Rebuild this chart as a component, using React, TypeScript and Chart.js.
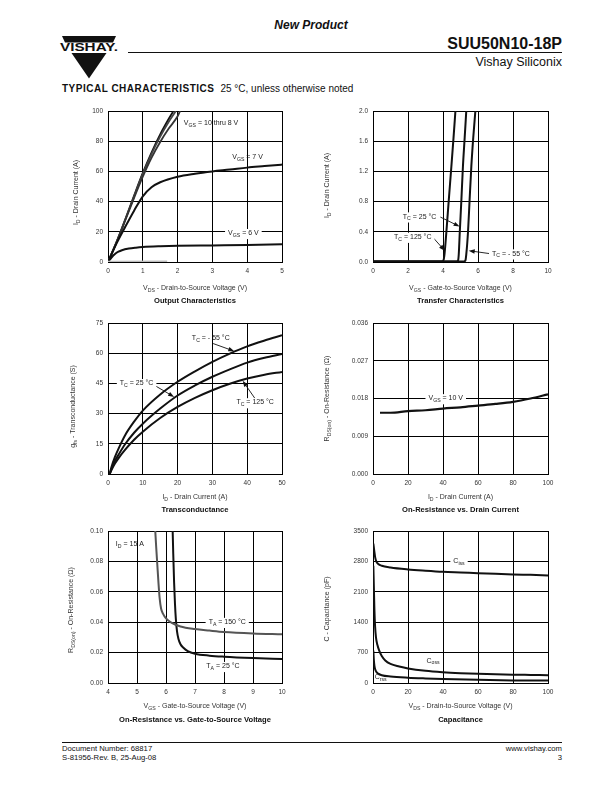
import React, { useEffect, useRef } from "react";
import { Chart, registerables } from "chart.js";

Chart.register(...registerables);

type Pt = [number, number];

// ---------------- Output Characteristics ----------------
const OUT_X_TICKS = [0, 1, 2, 3, 4, 5];
const OUT_Y_TICKS = [0, 20, 40, 60, 80, 100];
const OUT_VGS10: Pt[] = [[0, 0], [0.25, 13.5], [0.5, 28.5], [0.75, 44], [1, 59], [1.25, 72.5], [1.5, 84.5], [1.75, 95], [1.88, 100]];
const OUT_VGS9: Pt[] = [[0, 0], [0.25, 13.5], [0.5, 28.3], [0.75, 43.5], [1, 58.3], [1.25, 71.5], [1.5, 83], [1.75, 93], [1.95, 100]];
const OUT_VGS8: Pt[] = [[0, 0], [0.25, 13.2], [0.5, 27.8], [0.75, 42.5], [1, 56.5], [1.25, 69], [1.5, 79.5], [1.75, 88.5], [2, 96.5], [2.07, 100]];
const OUT_VGS7: Pt[] = [[0, 0], [0.25, 12.5], [0.5, 23.5], [0.75, 34], [1, 43.5], [1.25, 49.5], [1.5, 52.8], [2, 56.5], [2.5, 58.5], [3, 60], [3.5, 61.2], [4, 62.5], [4.5, 63.5], [5, 64.5]];
const OUT_VGS6: Pt[] = [[0, 0], [0.1, 3], [0.2, 5.3], [0.3, 6.8], [0.4, 7.8], [0.6, 8.9], [0.8, 9.5], [1, 9.9], [1.5, 10.4], [2, 10.7], [3, 11], [4, 11.3], [5, 11.7]];
const OUT_VGS5: Pt[] = [[0, 0.3], [1.7, 0.5]];

// ---------------- Transfer Characteristics ----------------
const TR_X_TICKS = [0, 2, 4, 6, 8, 10];
const TR_Y_TICKS = [0, 0.4, 0.8, 1.2, 1.6, 2.0];
const TR_TC125: Pt[] = [[0, 0.008], [3.9, 0.008], [4.02, 0.02], [4.08, 0.09], [4.19, 0.39], [4.33, 0.82], [4.48, 1.27], [4.6, 1.64], [4.71, 2.0]];
const TR_TC25: Pt[] = [[0, 0.008], [4.78, 0.008], [4.86, 0.02], [4.9, 0.1], [4.96, 0.4], [5.05, 0.82], [5.14, 1.27], [5.24, 1.65], [5.33, 2.0]];
const TR_TCM55: Pt[] = [[0, 0.008], [5.2, 0.008], [5.28, 0.02], [5.33, 0.1], [5.43, 0.4], [5.52, 0.82], [5.62, 1.27], [5.73, 1.65], [5.85, 2.0]];

// ---------------- Transconductance ----------------
const GFS_X_TICKS = [0, 10, 20, 30, 40, 50];
const GFS_Y_TICKS = [0, 15, 30, 45, 60, 75];
const GFS_TCM55: Pt[] = [[0.5, 0], [1, 3.5], [2, 8.5], [3, 12.5], [5, 19.5], [7.5, 26], [10, 31.5], [15, 39.5], [20, 45.8], [25, 51], [30, 55.7], [35, 59.8], [40, 63.4], [45, 66.3], [50, 68.9]];
const GFS_TC25: Pt[] = [[0.5, 0], [1, 2.5], [2, 6.5], [3, 9.5], [5, 15], [7.5, 20.5], [10, 25], [15, 32.5], [20, 39], [25, 44], [30, 48.3], [35, 52], [40, 55.3], [45, 57.7], [50, 59.6]];
const GFS_TC125: Pt[] = [[0.5, 0], [1, 2], [2, 5.2], [3, 7.8], [5, 12.2], [7.5, 17], [10, 21], [15, 27.8], [20, 33.3], [25, 37.8], [30, 41.6], [35, 44.8], [40, 47.4], [45, 49.3], [50, 50.7]];

// ---------------- On-Resistance vs. Drain Current ----------------
const RID_X_TICKS = [0, 20, 40, 60, 80, 100];
const RID_Y_TICKS = [0, 0.009, 0.018, 0.027, 0.036];
const RID_VGS10: Pt[] = [[4, 0.0146], [10, 0.0146], [20, 0.015], [30, 0.0152], [40, 0.0156], [50, 0.0159], [60, 0.0163], [70, 0.0167], [80, 0.0172], [90, 0.018], [100, 0.019]];

// ---------------- On-Resistance vs. Gate-to-Source Voltage ----------------
const RVG_X_TICKS = [4, 5, 6, 7, 8, 9, 10];
const RVG_Y_TICKS = [0, 0.02, 0.04, 0.06, 0.08, 0.1];
const RVG_TA150: Pt[] = [[5.63, 0.1], [5.66, 0.09], [5.7, 0.078], [5.74, 0.066], [5.78, 0.056], [5.83, 0.049], [5.9, 0.0455], [6.0, 0.0425], [6.2, 0.0395], [6.5, 0.0372], [7.0, 0.0355], [7.5, 0.0345], [8.0, 0.0336], [9.0, 0.0326], [10.0, 0.032]];
const RVG_TA25: Pt[] = [[6.23, 0.1], [6.25, 0.085], [6.28, 0.066], [6.31, 0.052], [6.34, 0.042], [6.38, 0.034], [6.43, 0.029], [6.5, 0.0255], [6.6, 0.0232], [6.75, 0.021], [7.0, 0.0193], [7.5, 0.018], [8.0, 0.0173], [9.0, 0.0164], [10.0, 0.0158]];

// ---------------- Capacitance ----------------
const CAP_X_TICKS = [0, 20, 40, 60, 80, 100];
const CAP_Y_TICKS = [0, 700, 1400, 2100, 2800, 3500];
const CAP_CISS: Pt[] = [[0.2, 3210], [0.7, 3050], [1.3, 2880], [2, 2790], [3, 2740], [5, 2700], [10, 2660], [20, 2615], [30, 2585], [40, 2560], [50, 2545], [60, 2530], [70, 2515], [80, 2500], [90, 2490], [100, 2478]];
const CAP_COSS: Pt[] = [[0.2, 2700], [0.5, 2200], [0.8, 1700], [1.2, 1300], [1.7, 1050], [2.5, 880], [3.5, 750], [5, 620], [7, 520], [10, 440], [15, 380], [20, 335], [30, 280], [40, 248], [50, 227], [60, 212], [70, 200], [80, 192], [90, 186], [100, 180]];
const CAP_CRSS: Pt[] = [[0.2, 750], [0.5, 520], [0.8, 400], [1.2, 320], [2, 250], [3, 215], [5, 180], [10, 150], [20, 122], [30, 105], [40, 92], [60, 72], [80, 60], [100, 55]];

// ---------------- layout / style ----------------
const FONT = '"Liberation Sans", Arial, Helvetica, sans-serif';
const ML = 70, MR = 15, MT = 10, MB = 46;

type Label = { x: number; y: number; t: string; bg?: boolean };
type Arrow = { from: Pt; to: Pt };
type Series = { data: Pt[]; color: string; width: number };
type PanelCfg = {
  left: number; top: number; w: number; h: number;
  xMin: number; xMax: number; xTicks: number[]; xDec: number;
  yMin: number; yMax: number; yTicks: number[]; yDec: number;
  series: Series[];
  xTitle: string; yTitle: string; caption: string;
  xTitleDy: number; captionDy: number; yTitleDx: number; yTitleDy: number;
  labels: Label[]; arrows: Arrow[];
};

function parseRich(s: string) {
  const parts: { t: string; sub: boolean }[] = [];
  const re = /_\{([^}]*)\}/g;
  let last = 0;
  let m: RegExpExecArray | null;
  while ((m = re.exec(s))) {
    if (m.index > last) parts.push({ t: s.slice(last, m.index), sub: false });
    parts.push({ t: m[1], sub: true });
    last = re.lastIndex;
  }
  if (last < s.length) parts.push({ t: s.slice(last), sub: false });
  return parts;
}

function drawRich(ctx: CanvasRenderingContext2D, s: string, x: number, y: number, size: number,
  align: "left" | "center", bold = false, bg = false, color = "#1a1a1a") {
  const parts = parseRich(s);
  const sub = size * 0.74;
  const f = (sz: number) => `${bold ? "bold " : ""}${sz}px ${FONT}`;
  const widths = parts.map((p) => { ctx.font = f(p.sub ? sub : size); return ctx.measureText(p.t).width; });
  const w = widths.reduce((a, b) => a + b, 0);
  let cx = align === "center" ? x - w / 2 : x;
  if (bg) {
    ctx.fillStyle = "#fff";
    ctx.fillRect(cx - 3, y - size * 0.62, w + 6, size * 1.45);
  }
  ctx.fillStyle = color;
  ctx.textAlign = "left";
  ctx.textBaseline = "middle";
  parts.forEach((p, i) => {
    ctx.font = f(p.sub ? sub : size);
    ctx.fillText(p.t, cx, p.sub ? y + size * 0.3 : y);
    cx += widths[i];
  });
}

function makePlugin(cfg: PanelCfg) {
  return {
    id: "panelText",
    afterDraw(chart: any) {
      const ctx: CanvasRenderingContext2D = chart.ctx;
      const xs = chart.scales.x, ys = chart.scales.y;
      const ca = chart.chartArea;
      ctx.save();
      // arrows
      cfg.arrows.forEach((a) => {
        const x1 = xs.getPixelForValue(a.from[0]), y1 = ys.getPixelForValue(a.from[1]);
        const x2 = xs.getPixelForValue(a.to[0]), y2 = ys.getPixelForValue(a.to[1]);
        const ang = Math.atan2(y2 - y1, x2 - x1);
        ctx.strokeStyle = "#111";
        ctx.lineWidth = 0.9;
        ctx.beginPath();
        ctx.moveTo(x1, y1);
        ctx.lineTo(x2 - 4 * Math.cos(ang), y2 - 4 * Math.sin(ang));
        ctx.stroke();
        ctx.fillStyle = "#111";
        ctx.beginPath();
        ctx.moveTo(x2, y2);
        ctx.lineTo(x2 - 6 * Math.cos(ang) + 2.2 * Math.sin(ang), y2 - 6 * Math.sin(ang) - 2.2 * Math.cos(ang));
        ctx.lineTo(x2 - 6 * Math.cos(ang) - 2.2 * Math.sin(ang), y2 - 6 * Math.sin(ang) + 2.2 * Math.cos(ang));
        ctx.closePath();
        ctx.fill();
      });
      // labels
      cfg.labels.forEach((l) => {
        drawRich(ctx, l.t, xs.getPixelForValue(l.x), ys.getPixelForValue(l.y), 7, "left", false, !!l.bg);
      });
      // axis titles and caption
      const midX = (ca.left + ca.right) / 2;
      drawRich(ctx, cfg.xTitle, midX, ca.bottom + cfg.xTitleDy, 7, "center", false, false, "#333");
      drawRich(ctx, cfg.caption, midX, ca.bottom + cfg.captionDy, 7.6, "center", true, false, "#111");
      ctx.save();
      ctx.translate(ca.left + cfg.yTitleDx, (ca.top + ca.bottom) / 2 + cfg.yTitleDy);
      ctx.rotate(-Math.PI / 2);
      drawRich(ctx, cfg.yTitle, 0, 0, 7, "center", false, false, "#333");
      ctx.restore();
      ctx.restore();
    },
  };
}

function Panel({ cfg }: { cfg: PanelCfg }) {
  const ref = useRef<HTMLCanvasElement>(null);
  const cw = cfg.w + ML + MR;
  const ch = cfg.h + MT + MB;
  useEffect(() => {
    const canvas = ref.current;
    if (!canvas) return;
    const tickFont = { family: FONT, size: 6.5 };
    const chart = new Chart(canvas, {
      type: "line",
      data: {
        datasets: cfg.series.map((s) => ({
          data: s.data.map(([x, y]) => ({ x, y })),
          borderColor: s.color,
          borderWidth: s.width,
          pointRadius: 0,
          fill: false,
          cubicInterpolationMode: "monotone",
          tension: 0.4,
        })),
      },
      options: {
        animation: false,
        responsive: false,
        devicePixelRatio: 1,
        events: [],
        layout: { padding: { left: 0, right: MR, top: MT, bottom: 0 }, autoPadding: false },
        plugins: { legend: { display: false }, tooltip: { enabled: false } },
        scales: {
          x: {
            type: "linear",
            min: cfg.xMin,
            max: cfg.xMax,
            afterBuildTicks: (s: any) => { s.ticks = cfg.xTicks.map((v) => ({ value: v })); },
            afterFit: (s: any) => { s.height = MB; },
            grid: { color: "#000", lineWidth: 1, drawTicks: false },
            border: { display: true, color: "#000", width: 1 },
            ticks: {
              padding: 5, color: "#333", font: tickFont, maxRotation: 0, autoSkip: false,
              callback: (v: any) => Number(v).toFixed(cfg.xDec),
            },
          },
          y: {
            type: "linear",
            min: cfg.yMin,
            max: cfg.yMax,
            afterBuildTicks: (s: any) => { s.ticks = cfg.yTicks.map((v) => ({ value: v })); },
            afterFit: (s: any) => { s.width = ML; },
            grid: { color: "#000", lineWidth: 1, drawTicks: false },
            border: { display: true, color: "#000", width: 1 },
            ticks: {
              padding: 5, color: "#333", font: tickFont, autoSkip: false,
              callback: (v: any) => Number(v).toFixed(cfg.yDec),
            },
          },
        },
      } as any,
      plugins: [makePlugin(cfg)],
    });
    return () => chart.destroy();
  }, [cfg]);
  return (
    <canvas
      ref={ref}
      width={cw}
      height={ch}
      style={{ position: "absolute", left: cfg.left - ML, top: cfg.top - MT, width: cw, height: ch }}
    />
  );
}

const K = "#111";

const PANELS: PanelCfg[] = [
  {
    left: 108, top: 111, w: 174, h: 151,
    xMin: 0, xMax: 5, xTicks: OUT_X_TICKS, xDec: 0,
    yMin: 0, yMax: 100, yTicks: OUT_Y_TICKS, yDec: 0,
    series: [
      { data: OUT_VGS5, color: "#bbb", width: 1.5 },
      { data: OUT_VGS6, color: K, width: 2 },
      { data: OUT_VGS7, color: K, width: 2 },
      { data: OUT_VGS8, color: "#333", width: 1.8 },
      { data: OUT_VGS9, color: "#444", width: 1.8 },
      { data: OUT_VGS10, color: K, width: 1.8 },
    ],
    xTitle: "V_{DS} - Drain-to-Source Voltage (V)", yTitle: "I_{D} - Drain Current (A)", caption: "Output Characteristics",
    xTitleDy: 26.5, captionDy: 38.5, yTitleDx: -32, yTitleDy: 6,
    labels: [
      { x: 2.18, y: 92, t: "V_{GS} = 10 thru 8 V" },
      { x: 3.57, y: 69.5, t: "V_{GS} = 7 V" },
      { x: 3.45, y: 19, t: "V_{GS} = 6 V", bg: true },
    ],
    arrows: [],
  },
  {
    left: 373, top: 111, w: 175, h: 151,
    xMin: 0, xMax: 10, xTicks: TR_X_TICKS, xDec: 0,
    yMin: 0, yMax: 2, yTicks: TR_Y_TICKS, yDec: 1,
    series: [
      { data: TR_TC125, color: K, width: 2 },
      { data: TR_TC25, color: K, width: 2 },
      { data: TR_TCM55, color: K, width: 2 },
    ],
    xTitle: "V_{GS} - Gate-to-Source Voltage (V)", yTitle: "I_{D} - Drain Current (A)", caption: "Transfer Characteristics",
    xTitleDy: 26.5, captionDy: 38.5, yTitleDx: -46, yTitleDy: -1,
    labels: [
      { x: 1.7, y: 0.6, t: "T_{C} = 25 °C", bg: true },
      { x: 1.2, y: 0.33, t: "T_{C} = 125 °C", bg: true },
      { x: 6.8, y: 0.11, t: "T_{C} = - 55 °C", bg: true },
    ],
    arrows: [
      { from: [3.85, 0.595], to: [4.95, 0.47] },
      { from: [3.42, 0.327], to: [4.1, 0.15] },
      { from: [6.7, 0.11], to: [5.47, 0.15] },
    ],
  },
  {
    left: 108, top: 323, w: 174, h: 151,
    xMin: 0, xMax: 50, xTicks: GFS_X_TICKS, xDec: 0,
    yMin: 0, yMax: 75, yTicks: GFS_Y_TICKS, yDec: 0,
    series: [
      { data: GFS_TCM55, color: K, width: 2 },
      { data: GFS_TC25, color: K, width: 2 },
      { data: GFS_TC125, color: K, width: 2 },
    ],
    xTitle: "I_{D} - Drain Current (A)", yTitle: "g_{fs} - Transconductance (S)", caption: "Transconductance",
    xTitleDy: 23, captionDy: 35.5, yTitleDx: -35, yTitleDy: 8,
    labels: [
      { x: 24.1, y: 67.3, t: "T_{C} = - 55 °C" },
      { x: 3.4, y: 45, t: "T_{C} = 25 °C", bg: true },
      { x: 36.9, y: 35.5, t: "T_{C} = 125 °C", bg: true },
    ],
    arrows: [
      { from: [30.2, 64.8], to: [36.3, 61] },
      { from: [13.6, 43.8], to: [19, 38.3] },
      { from: [42.2, 37.6], to: [38.7, 46.3] },
    ],
  },
  {
    left: 373, top: 323, w: 175, h: 151,
    xMin: 0, xMax: 100, xTicks: RID_X_TICKS, xDec: 0,
    yMin: 0, yMax: 0.036, yTicks: RID_Y_TICKS, yDec: 3,
    series: [{ data: RID_VGS10, color: K, width: 2.2 }],
    xTitle: "I_{D} - Drain Current (A)", yTitle: "R_{DS(on)} - On-Resistance (Ω)", caption: "On-Resistance vs. Drain Current",
    xTitleDy: 23, captionDy: 35.5, yTitleDx: -46, yTitleDy: 0,
    labels: [{ x: 31.7, y: 0.018, t: "V_{GS} = 10 V", bg: true }],
    arrows: [],
  },
  {
    left: 108, top: 531, w: 174, h: 152,
    xMin: 4, xMax: 10, xTicks: RVG_X_TICKS, xDec: 0,
    yMin: 0, yMax: 0.1, yTicks: RVG_Y_TICKS, yDec: 2,
    series: [
      { data: RVG_TA150, color: "#555", width: 2 },
      { data: RVG_TA25, color: K, width: 2 },
    ],
    xTitle: "V_{GS} - Gate-to-Source Voltage (V)", yTitle: "R_{DS(on)} - On-Resistance (Ω)", caption: "On-Resistance vs. Gate-to-Source Voltage",
    xTitleDy: 23.5, captionDy: 37, yTitleDx: -36.5, yTitleDy: 3,
    labels: [
      { x: 4.27, y: 0.0912, t: "I_{D} = 15 A" },
      { x: 7.47, y: 0.04, t: "T_{A} = 150 °C", bg: true },
      { x: 7.39, y: 0.011, t: "T_{A} = 25 °C", bg: true },
    ],
    arrows: [],
  },
  {
    left: 373, top: 531, w: 175, h: 152,
    xMin: 0, xMax: 100, xTicks: CAP_X_TICKS, xDec: 0,
    yMin: 0, yMax: 3500, yTicks: CAP_Y_TICKS, yDec: 0,
    series: [
      { data: CAP_CISS, color: K, width: 2 },
      { data: CAP_COSS, color: K, width: 2 },
      { data: CAP_CRSS, color: K, width: 2 },
    ],
    xTitle: "V_{DS} - Drain-to-Source Voltage (V)", yTitle: "C - Capacitance (pF)", caption: "Capacitance",
    xTitleDy: 23.5, captionDy: 37, yTitleDx: -46, yTitleDy: 2,
    labels: [
      { x: 45.9, y: 2800, t: "C_{iss}", bg: true },
      { x: 30.6, y: 515, t: "C_{oss}" },
      { x: 1, y: 129, t: "C_{rss}" },
    ],
    arrows: [],
  },
];

const abs = (s: React.CSSProperties): React.CSSProperties => ({ position: "absolute", whiteSpace: "nowrap", ...s });

export default function App() {
  return (
    <div style={{ position: "absolute", left: 0, top: 0, width: 612, height: 792, background: "#fff", fontFamily: FONT, color: "#111" }}>
      {/* header */}
      <div style={abs({ left: 211, top: 18, width: 200, textAlign: "center", fontSize: 12, lineHeight: "14px", fontWeight: "bold", fontStyle: "italic" })}>New Product</div>
      <svg style={{ position: "absolute", left: 58, top: 30, overflow: "visible" }} width={66} height={52}>
        <polygon points="4,6 58,6 55,12.5 7,12.5" fill="#111" />
        <polygon points="13.5,23 48.5,23 31,48.5" fill="#111" />
        <text x={31} y={21} textAnchor="middle" fontFamily={FONT} fontWeight="bold" fontSize={11.5} textLength={58} lengthAdjust="spacingAndGlyphs" fill="#111">VISHAY.</text>
      </svg>
      <div style={abs({ right: 50, top: 35, fontSize: 16, lineHeight: "18px", fontWeight: "bold" })}>SUU50N10-18P</div>
      <div style={abs({ left: 128, top: 52, width: 434, height: 1, background: "#111" })} />
      <div style={abs({ right: 50, top: 55, fontSize: 12.5, lineHeight: "14px" })}>Vishay Siliconix</div>
      <div style={abs({ left: 62, top: 82, fontSize: 10, lineHeight: "13px" })}>
        <span style={{ fontWeight: "bold", letterSpacing: 0.5 }}>TYPICAL CHARACTERISTICS</span>
        <span style={{ marginLeft: 6 }}>25 °C, unless otherwise noted</span>
      </div>

      {PANELS.map((p, i) => <Panel key={i} cfg={p} />)}

      {/* footer */}
      <div style={abs({ left: 62, top: 742, width: 500, height: 1, background: "#111" })} />
      <div style={abs({ left: 62, top: 744, fontSize: 7.7, lineHeight: "9px" })}>Document Number: 68817<br />S-81956-Rev. B, 25-Aug-08</div>
      <div style={abs({ right: 50, top: 744, fontSize: 7.7, lineHeight: "9px", textAlign: "right" })}>www.vishay.com<br />3</div>
    </div>
  );
}
